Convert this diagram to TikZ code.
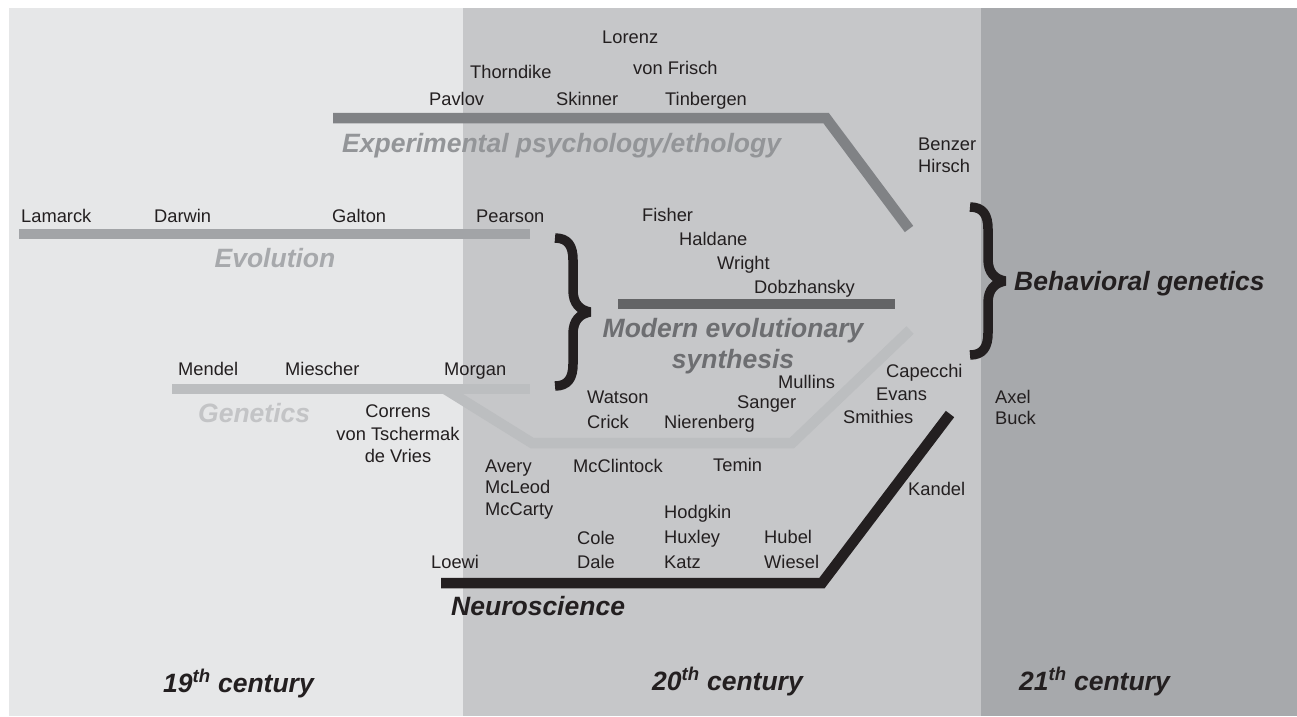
\documentclass[tikz,border=0pt]{standalone}
\usepackage{fontspec}
\setmainfont{Liberation Sans}
\definecolor{ink}{HTML}{231F20}
\definecolor{bandA}{HTML}{E6E7E8}
\definecolor{bandB}{HTML}{C6C7C9}
\definecolor{bandC}{HTML}{A7A9AC}
\definecolor{expc}{HTML}{808285}
\definecolor{expt}{HTML}{939598}
\definecolor{evoc}{HTML}{A2A4A7}
\definecolor{evot}{HTML}{A7A9AC}
\definecolor{genc}{HTML}{BCBEC0}
\definecolor{gent}{HTML}{C3C4C6}
\definecolor{modc}{HTML}{636466}
\definecolor{modt}{HTML}{6D6E71}
\begin{document}
\begin{tikzpicture}[x=1pt,y=-1pt,
  nm/.style={inner sep=0pt, anchor=base west, text=ink, font=\fontsize{18.3}{22}\selectfont},
  nmc/.style={nm, anchor=base},
  cat/.style={inner sep=0pt, anchor=base west, font=\fontsize{26.5}{31}\selectfont\bfseries\itshape},
  bar/.style={line width=10.5pt, line join=miter, line cap=butt},
  curly/.pic={\draw[line width=9.5pt, ink, line cap=butt, line join=bevel]
    (-35,-74) .. controls (-22,-74) and (-17,-66) .. (-17,-52) -- (-17,-22)
    .. controls (-17,-8) and (-10,-2) .. (0,0)
    .. controls (-10,2) and (-17,8) .. (-17,22) -- (-17,52)
    .. controls (-17,66) and (-22,74) .. (-35,74);}]
\useasboundingbox (0,0) rectangle (1297,716);
% bands
\fill[bandA] (9,8) rectangle (463,716);
\fill[bandB] (463,8) rectangle (981,716);
\fill[bandC] (981,8) rectangle (1297,716);

% coordinates of bars
\coordinate (e1) at (333,118);
\coordinate (e2) at (826,118);
\coordinate (e3) at (909,229);
\coordinate (v1) at (19,234);
\coordinate (v2) at (530,234);
\coordinate (m1) at (618,304);
\coordinate (m2) at (895,304);
\coordinate (g1) at (172,389);
\coordinate (g2) at (530,389);
\coordinate (b1) at (445,389);
\coordinate (b2) at (532,443);
\coordinate (b3) at (792,443);
\coordinate (b4) at (910,330);
\coordinate (n1) at (441,583);
\coordinate (n2) at (822,583);
\coordinate (n3) at (950,414);

\draw[bar, expc] (e1) -- (e2) -- (e3);
\draw[bar, evoc] (v1) -- (v2);
\draw[bar, modc] (m1) -- (m2);
\draw[bar, genc] (g1) -- (g2);
\draw[bar, genc] (b1) -- (b2) -- (b3) -- (b4);
\draw[bar, ink] (n1) -- (n2) -- (n3);

% braces
\pic (br1) at (590,312) {curly};
\pic (br2) at (1005,281) {curly};

% category labels
\node[cat, text=expt] (lexp) at (342,152) {Experimental psychology/ethology};
\node[cat, text=evot, anchor=base] (levo) at (275,267) {Evolution};
\node[cat, text=gent] (lgen) at (198,422) {Genetics};
\node[cat, text=modt, anchor=base] (lmod1) at (733,337) {Modern evolutionary};
\node[cat, text=modt, anchor=base] (lmod2) at (733,368) {synthesis};
\node[cat, text=ink] (lbeh) at (1014,290) {Behavioral genetics};
\node[cat, text=ink] (lneu) at (451,615) {Neuroscience};
\node[cat, text=ink] (c19) at (163,692) {19\textsuperscript{th} century};
\node[cat, text=ink] (c20) at (652,690) {20\textsuperscript{th} century};
\node[cat, text=ink] (c21) at (1019,690) {21\textsuperscript{th} century};

% names
\node[nm] (lorenz) at (602,43) {Lorenz};
\node[nm] (thorndike) at (470,78) {Thorndike};
\node[nm] (frisch) at (633,74) {von Frisch};
\node[nm] (pavlov) at (429,105) {Pavlov};
\node[nm] (skinner) at (556,105) {Skinner};
\node[nm] (tinbergen) at (665,105) {Tinbergen};
\node[nm] (benzer) at (918,150) {Benzer};
\node[nm] (hirsch) at (918,172) {Hirsch};
\node[nm] (lamarck) at (21,222) {Lamarck};
\node[nm] (darwin) at (154,222) {Darwin};
\node[nm] (galton) at (332,222) {Galton};
\node[nm] (pearson) at (476,222) {Pearson};
\node[nm] (fisher) at (642,221) {Fisher};
\node[nm] (haldane) at (679,245) {Haldane};
\node[nm] (wright) at (717,269) {Wright};
\node[nm] (dobzh) at (754,293) {Dobzhansky};
\node[nm] (mendel) at (178,375) {Mendel};
\node[nm] (miescher) at (285,375) {Miescher};
\node[nm] (morgan) at (444,375) {Morgan};
\node[nm] (capecchi) at (886,377) {Capecchi};
\node[nm] (mullins) at (778,388) {Mullins};
\node[nm] (evans) at (876,400) {Evans};
\node[nm] (watson) at (587,403) {Watson};
\node[nm] (axel) at (995,403) {Axel};
\node[nm] (sanger) at (737,408) {Sanger};
\node[nmc] (correns) at (398,417) {Correns};
\node[nm] (smithies) at (843,423) {Smithies};
\node[nm] (buck) at (995,424) {Buck};
\node[nm] (crick) at (587,428) {Crick};
\node[nm] (nierenberg) at (664,428) {Nierenberg};
\node[nmc] (tschermak) at (398,440) {von Tschermak};
\node[nmc] (devries) at (398,462) {de Vries};
\node[nm] (avery) at (485,472) {Avery};
\node[nm] (mcclintock) at (573,472) {McClintock};
\node[nm] (temin) at (713,471) {Temin};
\node[nm] (mcleod) at (485,493) {McLeod};
\node[nm] (kandel) at (908,495) {Kandel};
\node[nm] (mccarty) at (485,515) {McCarty};
\node[nm] (hodgkin) at (664,518) {Hodgkin};
\node[nm] (cole) at (577,544) {Cole};
\node[nm] (huxley) at (664,543) {Huxley};
\node[nm] (hubel) at (764,543) {Hubel};
\node[nm] (loewi) at (431,568) {Loewi};
\node[nm] (dale) at (577,568) {Dale};
\node[nm] (katz) at (664,568) {Katz};
\node[nm] (wiesel) at (764,568) {Wiesel};
\end{tikzpicture}
\end{document}
